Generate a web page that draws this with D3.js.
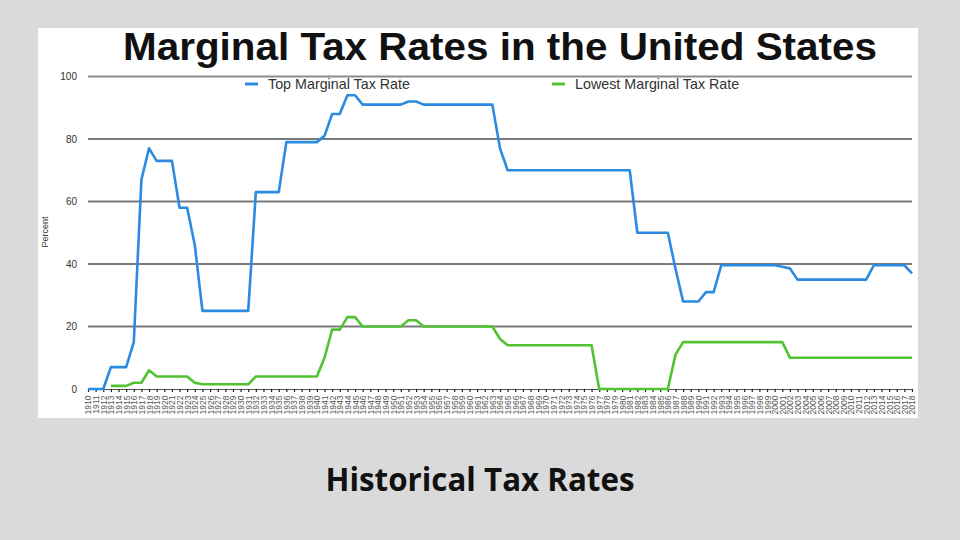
<!DOCTYPE html>
<html>
<head>
<meta charset="utf-8">
<script src="https://cdn.jsdelivr.net/npm/d3@7"></script>
<style>
  html, body { margin: 0; padding: 0; background: #dadada; }
  svg { display: block; }
</style>
</head>
<body>
<div id="chart"></div>
<script>
var years = [
  1910, 1911, 1912, 1913, 1914, 1915, 1916, 1917, 1918, 1919,
  1920, 1921, 1922, 1923, 1924, 1925, 1926, 1927, 1928, 1929,
  1930, 1931, 1932, 1933, 1934, 1935, 1936, 1937, 1938, 1939,
  1940, 1941, 1942, 1943, 1944, 1945, 1946, 1947, 1948, 1949,
  1950, 1951, 1952, 1953, 1954, 1955, 1956, 1957, 1958, 1959,
  1960, 1961, 1962, 1963, 1964, 1965, 1966, 1967, 1968, 1969,
  1970, 1971, 1972, 1973, 1974, 1975, 1976, 1977, 1978, 1979,
  1980, 1981, 1982, 1983, 1984, 1985, 1986, 1987, 1988, 1989,
  1990, 1991, 1992, 1993, 1994, 1995, 1996, 1997, 1998, 1999,
  2000, 2001, 2002, 2003, 2004, 2005, 2006, 2007, 2008, 2009,
  2010, 2011, 2012, 2013, 2014, 2015, 2016, 2017, 2018
];
var topRate = [
  0, 0, 0, 7, 7, 7, 15, 67, 77, 73,
  73, 73, 58, 58, 46, 25, 25, 25, 25, 25,
  25, 25, 63, 63, 63, 63, 79, 79, 79, 79,
  79, 81, 88, 88, 94, 94, 91, 91, 91, 91,
  91, 91, 92, 92, 91, 91, 91, 91, 91, 91,
  91, 91, 91, 91, 77, 70, 70, 70, 70, 70,
  70, 70, 70, 70, 70, 70, 70, 70, 70, 70,
  70, 70, 50, 50, 50, 50, 50, 38.5, 28, 28,
  28, 31, 31, 39.6, 39.6, 39.6, 39.6, 39.6, 39.6, 39.6,
  39.6, 39.1, 38.6, 35, 35, 35, 35, 35, 35, 35,
  35, 35, 35, 39.6, 39.6, 39.6, 39.6, 39.6, 37
];
var lowestRate = [
  null, null, null, 1, 1, 1, 2, 2, 6, 4,
  4, 4, 4, 4, 2, 1.5, 1.5, 1.5, 1.5, 1.5,
  1.5, 1.5, 4, 4, 4, 4, 4, 4, 4, 4,
  4, 10, 19, 19, 23, 23, 20, 20, 20, 20,
  20, 20, 22, 22, 20, 20, 20, 20, 20, 20,
  20, 20, 20, 20, 16, 14, 14, 14, 14, 14,
  14, 14, 14, 14, 14, 14, 14, 0, 0, 0,
  0, 0, 0, 0, 0, 0, 0, 11, 15, 15,
  15, 15, 15, 15, 15, 15, 15, 15, 15, 15,
  15, 15, 10, 10, 10, 10, 10, 10, 10, 10,
  10, 10, 10, 10, 10, 10, 10, 10, 10
];
var yTicks = [0, 20, 40, 60, 80, 100];
var seriesNames = ["Top Marginal Tax Rate", "Lowest Marginal Tax Rate"];
var seriesColors = ["#2a8be0", "#52c433"];

var width = 960;
var height = 540;

var x = d3.scaleLinear().domain([1910, 2018]).range([88, 912]);
var y = d3.scaleLinear().domain([0, 100]).range([389, 76.5]);

var svg = d3.select('#chart')
	.append('svg')
	.attr('width', width)
	.attr('height', height);

// white panel behind the chart picture
svg.append('rect')
	.attr('x', 38)
	.attr('y', 28)
	.attr('width', 880)
	.attr('height', 390)
	.attr('fill', '#ffffff');

svg.append('text')
	.attr('x', 500)
	.attr('y', 60)
	.attr('text-anchor', 'middle')
	.attr('font-family', 'Liberation Sans, Arial, sans-serif')
	.attr('font-weight', 'bold')
	.attr('font-size', 38)
	.attr('textLength', 754)
	.attr('lengthAdjust', 'spacingAndGlyphs')
	.attr('fill', '#111')
	.text('Marginal Tax Rates in the United States');

// grid lines
svg.append('g')
	.selectAll('line')
	.data(yTicks.filter(function (d) { return d > 0; }))
	.enter().append('line')
	.attr('x1', 88)
	.attr('x2', 912)
	.attr('y1', function (d) { return y(d); })
	.attr('y2', function (d) { return y(d); })
	.attr('stroke', function (d) { return d === 100 ? '#8c8c8c' : '#7a7a7a'; })
	.attr('stroke-width', 1.8);

// y labels
svg.append('g')
	.selectAll('text')
	.data(yTicks)
	.enter().append('text')
	.attr('x', 77)
	.attr('y', function (d) { return y(d) + 3.5; })
	.attr('text-anchor', 'end')
	.attr('font-family', 'Liberation Sans, Arial, sans-serif')
	.attr('font-size', 10)
	.attr('fill', '#333')
	.text(function (d) { return d; });

svg.append('text')
	.attr('transform', 'translate(48, 232) rotate(-90)')
	.attr('text-anchor', 'middle')
	.attr('font-family', 'Liberation Sans, Arial, sans-serif')
	.attr('font-size', 9)
	.attr('fill', '#333')
	.text('Percent');

// x axis with one tick per year
var xAxis = d3.axisBottom(x)
	.tickValues(years)
	.tickSize(3)
	.tickFormat(d3.format('d'));
var gx = svg.append('g')
	.attr('transform', 'translate(0,' + y(0) + ')')
	.call(xAxis);
gx.select('.domain').attr('stroke', '#555').attr('stroke-width', 1);
gx.selectAll('.tick line').attr('stroke', '#222').attr('stroke-width', 1.2);
gx.selectAll('.tick text')
	.attr('font-family', 'Liberation Sans, Arial, sans-serif')
	.attr('font-size', 8.5)
	.attr('fill', '#555')
	.attr('text-anchor', 'end')
	.attr('dx', '-0.3em')
	.attr('dy', '0.35em')
	.attr('transform', 'rotate(-90)')
	.attr('x', -4)
	.attr('y', 0);

// series lines
var series = [topRate, lowestRate];
var line = d3.line()
	.defined(function (d) { return d[1] !== null; })
	.x(function (d) { return x(d[0]); })
	.y(function (d) { return y(d[1]); });

series.forEach(function (vals, i) {
    var pts = years.map(function (yr, j) { return [yr, vals[j]]; });
    svg.append('path')
	    .datum(pts)
	    .attr('fill', 'none')
	    .attr('stroke', seriesColors[i])
	    .attr('stroke-width', 2.6)
	    .attr('stroke-linejoin', 'round')
	    .attr('d', line);
});

// legend
var legendX = [245, 552];
seriesNames.forEach(function (name, i) {
    var g = svg.append('g').attr('transform', 'translate(' + legendX[i] + ',84)');
    g.append('line')
	    .attr('x1', 0).attr('x2', 13)
	    .attr('y1', 0).attr('y2', 0)
	    .attr('stroke', seriesColors[i])
	    .attr('stroke-width', 3);
    g.append('text')
	    .attr('x', 23)
	    .attr('y', 5)
	    .attr('font-family', 'Liberation Sans, Arial, sans-serif')
	    .attr('font-size', 14.3)
	    .attr('fill', '#333')
	    .text(name);
});

svg.append('text')
	.attr('x', 480)
	.attr('y', 491)
	.attr('text-anchor', 'middle')
	.attr('font-family', 'Open Sans, sans-serif')
	.attr('font-weight', 'bold')
	.attr('font-size', 31.3)
	.attr('fill', '#111')
	.text('Historical Tax Rates');
</script>
</body>
</html>
